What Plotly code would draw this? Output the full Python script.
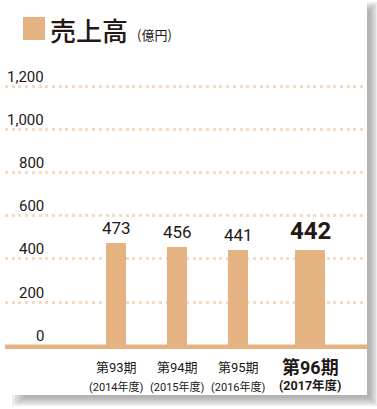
import plotly.graph_objects as go

periods = ["第93期", "第94期", "第95期", "第96期"]
years = ["(2014年度)", "(2015年度)", "(2016年度)", "(2017年度)"]
sales = [473, 456, 441, 442]
y_ticks = [0, 200, 400, 600, 800, 1000, 1200]
y_tick_text = ["0", "200", "400", "600", "800", "1,000", "1,200"]

W, H = 377, 409
BAR = "#e5b382"
GRID = "#f5dbc2"
TXT = "#231815"
NUM = "Roboto, Noto Sans CJK JP, sans-serif"
CJK = "Roboto, Noto Sans CJK JP, sans-serif"

unit = 61.0
widths = [20 / unit, 20 / unit, 20 / unit, 30 / unit]
shift_last = 11
offsets = [-w / 2 for w in widths]
offsets[-1] += shift_last / unit

fig = go.Figure()
fig.add_trace(go.Bar(
    x=periods, y=sales, width=widths, offset=offsets,
    marker=dict(color=BAR, line=dict(width=0)), hoverinfo="skip",
))

# y mapping: 0 -> 345.2px, 1200 -> 86px
ppu = (345.2 - 86) / 1200
ymax = 1200 + 86 / ppu
ymin = -(H - 345.2) / ppu

x_left_px, x_right_px, c0_px = 5, 365, 116
xr = [-(c0_px - x_left_px) / unit, (x_right_px - c0_px) / unit]

fig.update_layout(
    width=W, height=H, margin=dict(l=0, r=0, t=0, b=0),
    paper_bgcolor="white", plot_bgcolor="rgba(0,0,0,0)",
    showlegend=False, bargap=0,
    xaxis=dict(type="category", range=xr, domain=[x_left_px / W, x_right_px / W],
               showticklabels=False, showgrid=False, zeroline=False, showline=False,
               fixedrange=True),
    yaxis=dict(range=[ymin, ymax], tickvals=y_ticks[1:], showticklabels=False,
               showgrid=True, gridcolor=GRID, gridwidth=3, griddash="3px,3.7px",
               zeroline=False, showline=False, fixedrange=True),
)

shapes = []
# baseline
shapes.append(dict(type="rect", xref="paper", yref="paper",
                   x0=5 / W, x1=367 / W, y0=1 - 349 / H, y1=1 - 344.5 / H,
                   fillcolor=BAR, line=dict(width=0), layer="above"))
# legend square
shapes.append(dict(type="rect", xref="paper", yref="paper",
                   x0=23 / W, x1=45 / W, y0=1 - 40 / H, y1=1 - 17 / H,
                   fillcolor=BAR, line=dict(width=0)))
# card shadow (right and bottom)
for i in range(5):
    shapes.append(dict(type="rect", xref="paper", yref="paper",
                       x0=367 / W, x1=(368 + 2 * (i + 1)) / W,
                       y0=1 - (396 + 2 * (i + 1)) / H, y1=1 - (2 + 2 * (4 - i)) / H,
                       fillcolor="#6e6e6e", opacity=0.13, line=dict(width=0), layer="below"))
    shapes.append(dict(type="rect", xref="paper", yref="paper",
                       x0=(12 + 3 * (4 - i)) / W, x1=367 / W,
                       y0=1 - (396 + 2 * (i + 1)) / H, y1=1 - 395 / H,
                       fillcolor="#6e6e6e", opacity=0.13, line=dict(width=0), layer="below"))
fig.update_layout(shapes=shapes)

ann = []
# title
ann.append(dict(text="売上高", x=48 / W, y=1 - 29.5 / H, xref="paper", yref="paper",
                xanchor="left", yanchor="middle", showarrow=False,
                font=dict(family="Noto Sans CJK JP", size=26, color=TXT, weight=500)))
ann.append(dict(text="(億円)", x=135 / W, y=1 - 34 / H, xref="paper", yref="paper",
                xanchor="left", yanchor="middle", showarrow=False,
                font=dict(family="Noto Sans CJK JP", size=13, color=TXT)))
# y tick labels
for v, t in zip(y_ticks, y_tick_text):
    ann.append(dict(text=t, x=46 / W, xref="paper", y=v, yref="y",
                    xanchor="right", yanchor="middle", yshift=9.5, showarrow=False,
                    font=dict(family=NUM, size=15, color=TXT)))
# bar values and x labels
for i, (p, yr, v) in enumerate(zip(periods, years, sales)):
    last = i == len(periods) - 1
    xs = shift_last if last else 0
    ann.append(dict(text=f"{v}", x=p, xref="x", y=v, yref="y",
                    xanchor="center", yanchor="bottom", yshift=3, xshift=xs,
                    showarrow=False,
                    font=dict(family=NUM, size=24 if last else 17, color=TXT,
                              weight="bold" if last else "normal")))
    ann.append(dict(text=p, x=p, xref="x", y=1 - (367 if last else 367.5) / H, yref="paper",
                    xanchor="center", yanchor="middle", xshift=xs, showarrow=False,
                    font=dict(family=CJK, size=18 if last else 13, color=TXT,
                              weight="bold" if last else "normal")))
    ann.append(dict(text=yr, x=p, xref="x", y=1 - (385 if last else 386.5) / H, yref="paper",
                    xanchor="center", yanchor="middle", xshift=xs, showarrow=False,
                    font=dict(family=CJK, size=12.5 if last else 11, color=TXT,
                              weight="bold" if last else "normal")))
fig.update_layout(annotations=ann)

fig.write_html("out.html", config={"displayModeBar": False})
